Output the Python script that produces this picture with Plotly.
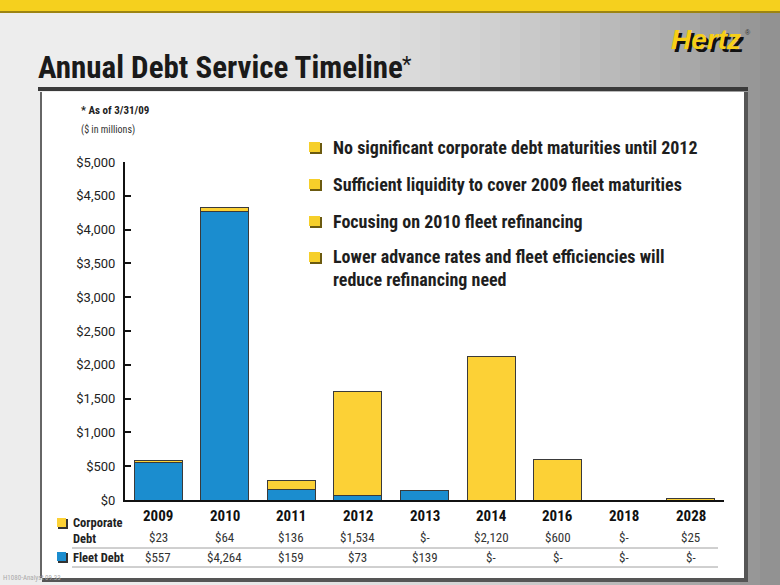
import plotly.graph_objects as go

# ---- data ----
years = ["2009", "2010", "2011", "2012", "2013", "2014", "2016", "2018", "2028"]
corporate_debt = [23, 64, 136, 1534, 0, 2120, 600, 0, 25]
fleet_debt = [557, 4264, 159, 73, 139, 0, 0, 0, 0]
corporate_labels = ["$23", "$64", "$136", "$1,534", "$-", "$2,120", "$600", "$-", "$25"]
fleet_labels = ["$557", "$4,264", "$159", "$73", "$139", "$-", "$-", "$-", "$-"]
y_ticks = [0, 500, 1000, 1500, 2000, 2500, 3000, 3500, 4000, 4500, 5000]
bullets = [
    "No significant corporate debt maturities until 2012",
    "Sufficient liquidity to cover 2009 fleet maturities",
    "Focusing on 2010 fleet refinancing",
    "Lower advance rates and fleet efficiencies will<br>reduce refinancing need",
]

# ---- geometry ----
WIDTH, HEIGHT = 780, 585
ML, MR, MT, MB = 125, 56, 162, 85
PW = WIDTH - ML - MR
PH = HEIGHT - MT - MB
BASE = HEIGHT - MB


def px(x):
    return (x - ML) / PW


def py(y):
    return (BASE - y) / PH


NARROW = "Roboto Condensed, Liberation Sans Narrow, Roboto, sans-serif"
REG = "Roboto, Liberation Sans, sans-serif"
BLUE = "#1b8dcf"
YELLOW = "#fcd136"

fig = go.Figure()
fig.add_bar(x=list(range(len(years))), y=fleet_debt, name="Fleet Debt",
            marker=dict(color=BLUE, line=dict(color="#3a3a3a", width=1)))
fig.add_bar(x=list(range(len(years))), y=corporate_debt, name="Corporate Debt",
            marker=dict(color=YELLOW, line=dict(color="#3a3a3a", width=1)))

shapes = []
# background gradient stripes
n = 39
for i in range(n):
    x0 = i * WIDTH / n
    x1 = (i + 1) * WIDTH / n + 1
    t = (i + 0.5) / n
    c = int(238 - 95 * t ** 2.5)
    shapes.append(dict(type="rect", xref="paper", yref="paper", x0=px(x0), x1=px(x1),
                       y0=py(HEIGHT), y1=py(0), fillcolor=f"rgb({c},{c},{c})",
                       line=dict(width=0), layer="below"))
# top yellow band
shapes.append(dict(type="rect", xref="paper", yref="paper", x0=px(0), x1=px(WIDTH),
                   y0=py(12), y1=py(0), fillcolor="#f5d01e", line=dict(width=0), layer="below"))
shapes.append(dict(type="line", xref="paper", yref="paper", x0=px(0), x1=px(WIDTH),
                   y0=py(12), y1=py(12), line=dict(color="#9c8412", width=2), layer="below"))
# white panel with shadow
shapes.append(dict(type="rect", xref="paper", yref="paper", x0=px(42), x1=px(748),
                   y0=py(582), y1=py(92), fillcolor="#555555", line=dict(width=0), layer="below"))
shapes.append(dict(type="rect", xref="paper", yref="paper", x0=px(40), x1=px(744),
                   y0=py(578), y1=py(92), fillcolor="white", line=dict(width=0), layer="below"))
shapes.append(dict(type="line", xref="paper", yref="paper", x0=px(41), x1=px(41),
                   y0=py(578), y1=py(92), line=dict(color="#666666", width=2), layer="below"))
# dark rule under title
shapes.append(dict(type="line", xref="paper", yref="paper", x0=px(38), x1=px(748),
                   y0=py(89), y1=py(89), line=dict(color="#3a3a3a", width=4), layer="below"))
# table rules
for yy in (548, 567):
    shapes.append(dict(type="line", xref="paper", yref="paper", x0=px(72), x1=px(718),
                       y0=py(yy), y1=py(yy), line=dict(color="#a0a0a0", width=1)))
# table legend squares
for (yy, col) in ((523, YELLOW), (557, BLUE)):
    shapes.append(dict(type="rect", xref="paper", yref="paper", x0=px(58), x1=px(68),
                       y0=py(yy + 6), y1=py(yy - 4), fillcolor="#333333", line=dict(width=0)))
    shapes.append(dict(type="rect", xref="paper", yref="paper", x0=px(57), x1=px(66),
                       y0=py(yy + 4), y1=py(yy - 5), fillcolor=col, line=dict(width=0)))

annotations = []
# title
annotations.append(dict(text="Annual Debt Service Timeline", xref="paper", yref="paper",
                        x=px(36), y=py(68), xanchor="left", yanchor="middle", showarrow=False,
                        font=dict(family=NARROW, size=31, color="#1a1a1a", weight="bold")))
annotations.append(dict(text="*", xref="paper", yref="paper",
                        x=px(400), y=py(64), xanchor="left", yanchor="middle", showarrow=False,
                        font=dict(family=REG, size=22, color="#1a1a1a")))
# Hertz logo
annotations.append(dict(text="<i><b>Hertz</b></i>", xref="paper", yref="paper",
                        x=px(669), y=py(39), xanchor="left", yanchor="middle", showarrow=False,
                        font=dict(family="Liberation Sans, Arial, sans-serif", size=28,
                                  color="#f7cf17", shadow="3px 3px 0px #111111")))
annotations.append(dict(text="®", xref="paper", yref="paper",
                        x=px(748), y=py(33), xanchor="center", yanchor="middle", showarrow=False,
                        font=dict(family="Liberation Sans, Arial, sans-serif", size=7, color="#333")))
# notes
annotations.append(dict(text="<b>* As of 3/31/09</b>", xref="paper", yref="paper",
                        x=px(79), y=py(110), xanchor="left", yanchor="middle", showarrow=False,
                        font=dict(family=NARROW, size=11, color="#222")))
annotations.append(dict(text="($ in millions)", xref="paper", yref="paper",
                        x=px(79), y=py(129), xanchor="left", yanchor="middle", showarrow=False,
                        font=dict(family=NARROW, size=10, color="#333")))
# bullets
bullet_y = [147, 184, 221, 268]
for txt, yy in zip(bullets, bullet_y):
    top = yy if "<br>" not in txt else 257
    shapes.append(dict(type="rect", xref="paper", yref="paper", x0=px(310), x1=px(322),
                       y0=py(top + 7), y1=py(top - 4), fillcolor="#6b5a10", line=dict(width=0)))
    shapes.append(dict(type="rect", xref="paper", yref="paper", x0=px(309), x1=px(320),
                       y0=py(top + 5), y1=py(top - 5), fillcolor="#f6cf2a", line=dict(width=0)))
    annotations.append(dict(text=f"<b>{txt}</b>", xref="paper", yref="paper",
                            x=px(331), y=py(yy), xanchor="left", yanchor="middle", showarrow=False,
                            align="left",
                            font=dict(family=NARROW, size=18, color="#1e1e1e")))
# table
for i, (yr, cl, fl) in enumerate(zip(years, corporate_labels, fleet_labels)):
    annotations.append(dict(text=f"<b>{yr}</b>", xref="x", yref="paper", x=i, y=py(516),
                            xanchor="center", yanchor="middle", showarrow=False,
                            font=dict(family=NARROW, size=15, color="#111")))
    annotations.append(dict(text=cl, xref="x", yref="paper", x=i, y=py(537),
                            xanchor="center", yanchor="middle", showarrow=False,
                            font=dict(family=NARROW, size=13, color="#333")))
    annotations.append(dict(text=fl, xref="x", yref="paper", x=i, y=py(557),
                            xanchor="center", yanchor="middle", showarrow=False,
                            font=dict(family=NARROW, size=13, color="#333")))
annotations.append(dict(text="<b>Corporate<br>Debt</b>", xref="paper", yref="paper", x=px(71), y=py(530),
                        xanchor="left", yanchor="middle", showarrow=False, align="left",
                        font=dict(family=NARROW, size=12.5, color="#222")))
annotations.append(dict(text="<b>Fleet Debt</b>", xref="paper", yref="paper", x=px(71), y=py(557),
                        xanchor="left", yanchor="middle", showarrow=False,
                        font=dict(family=NARROW, size=12.5, color="#222")))
annotations.append(dict(text="H1080-Analyst 09.33", xref="paper", yref="paper", x=px(1), y=py(578),
                        xanchor="left", yanchor="middle", showarrow=False,
                        font=dict(family=NARROW, size=7, color="#aaaaaa")))

fig.update_layout(
    width=WIDTH, height=HEIGHT,
    margin=dict(l=ML, r=MR, t=MT, b=MB, pad=0),
    barmode="stack", bargap=0.28,
    showlegend=False,
    paper_bgcolor="#dddddd", plot_bgcolor="rgba(0,0,0,0)",
    shapes=shapes, annotations=annotations,
    xaxis=dict(showticklabels=False, ticks="", showline=True,
               linecolor="#111", linewidth=2, showgrid=False, zeroline=False,
               range=[-0.5, len(years) - 0.5]),
    yaxis=dict(range=[0, 5000], tickvals=y_ticks, tickformat="$,.0f", ticks="inside",
               ticklen=6, tickwidth=2, tickcolor="#111", showline=True, linecolor="#111",
               linewidth=2, showgrid=False, zeroline=False, ticklabelstandoff=5,
               tickfont=dict(family=REG, size=13, color="#222")),
)

fig.write_html("out.html", config={"displayModeBar": False},
               post_script="document.body.style.margin='0';document.body.style.overflow='hidden';")
